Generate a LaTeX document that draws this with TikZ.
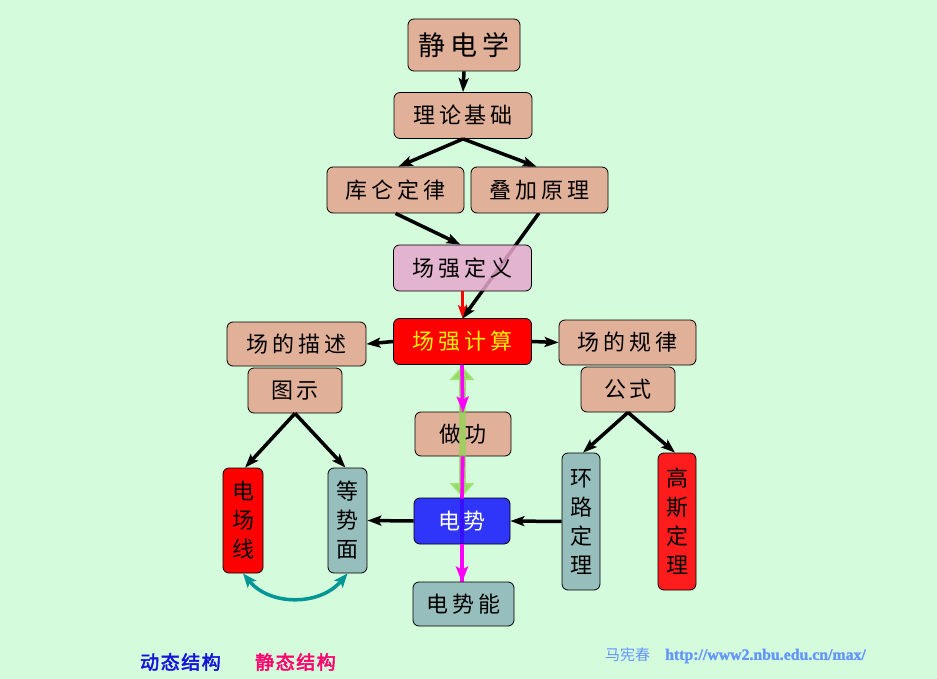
\documentclass[tikz,border=0pt]{standalone}
\usepackage{fontspec}
\newfontfamily\cjk[LetterSpace=18]{Noto Sans CJK SC}
\newfontfamily\cjkv{Noto Sans CJK SC}
\newfontfamily\cjkb[FakeBold=2.5,LetterSpace=8]{Noto Sans CJK SC}
\newfontfamily\urlf[FakeBold=1.5]{Liberation Serif}
\usetikzlibrary{arrows.meta}
\definecolor{bg}{RGB}{212,251,220}
\definecolor{salmon}{RGB}{225,176,152}
\definecolor{pinkbox}{RGB}{230,168,205}
\definecolor{tealgray}{RGB}{150,190,188}
\definecolor{bluebox}{RGB}{20,20,255}
\definecolor{redbox}{RGB}{255,0,0}
\definecolor{gauss}{RGB}{255,28,28}
\definecolor{greenarr}{RGB}{140,215,80}
\definecolor{tealarr}{RGB}{0,150,150}
\definecolor{magarr}{RGB}{255,0,255}
\definecolor{dyn}{RGB}{20,20,220}
\definecolor{sta}{RGB}{255,0,110}
\definecolor{author}{RGB}{100,150,255}
\tikzset{
  box/.style={draw=black, line width=0.8pt, rounded corners=6pt, inner sep=0pt,
    font=\cjk\fontsize{22}{28}\selectfont, align=center, text=black},
  hbox/.style={box, minimum width=138pt, minimum height=46pt},
  sbox/.style={box, minimum width=94pt, minimum height=45pt},
  vbox/.style={box, font=\cjkv\fontsize{22}{29}\selectfont, minimum width=39pt},
  blk/.style={draw=black, line width=3.5pt, -{Stealth[length=14pt,width=10pt,inset=3pt]}},
  mag/.style={draw=magarr, line width=3.5pt},
  magtip/.style={mag, -{Stealth[length=16pt,width=12pt,inset=3pt]}},
}
\begin{document}
\begin{tikzpicture}[x=1pt,y=-1pt]
\fill[bg] (0,0) rectangle (937,679);
\useasboundingbox (0,0) rectangle (937,679);

% magenta line behind the boxes (shows through the blue box)
\coordinate (m1) at (462,364);
\coordinate (m3) at (462,582);
\draw[mag] (m1) -- (m3);
% black line behind 场强定义
\coordinate (dj) at (539,213);
\coordinate (jsn) at (462,319);
\draw[blk] (dj) -- (jsn);

\node[box, fill=salmon, minimum width=112pt, minimum height=52pt, font=\cjk\fontsize{27}{30}\selectfont] (jdx) at (464,45) {静电学};
\node[hbox, fill=salmon] (llj) at (463,115.5) {理论基础};
\node[box, fill=salmon, minimum width=137pt, minimum height=46pt] (kl) at (395.5,190) {库仑定律};
\node[box, fill=salmon, minimum width=137pt, minimum height=46pt] (djy) at (539.5,190) {叠加原理};
\node[hbox, fill=pinkbox, fill opacity=0.85, text opacity=1] (cqdy) at (462.5,268) {场强定义};
\node[hbox, fill=redbox, text=yellow] (cqjs) at (462.5,341.5) {场强计算};
\node[box, fill=salmon, minimum width=139pt, minimum height=44pt] (cdms) at (296.5,344) {场的描述};
\node[sbox, fill=salmon] (ts) at (295,390.5) {图示};
\node[box, fill=salmon, minimum width=137pt, minimum height=45pt] (cdgl) at (627.5,342.5) {场的规律};
\node[sbox, fill=salmon] (gs) at (628,389.5) {公式};
\node[box, fill=salmon, minimum width=96pt, minimum height=44pt] (zg) at (463,434) {做功};
\node[box, fill=bluebox, fill opacity=0.85, text opacity=1, text=white, minimum width=96pt, minimum height=46pt] (ds) at (462,521) {电势};
\node[box, fill=tealgray, minimum width=101pt, minimum height=44pt] (dsn) at (463.5,604) {电势能};
\node[vbox, fill=redbox, minimum width=40pt, minimum height=105pt] (dcx) at (243,520.5) {电\\场\\线};
\node[vbox, fill=tealgray, minimum height=105pt] (dsm) at (347.5,520.5) {等\\势\\面};
\node[vbox, fill=tealgray, minimum width=38pt, minimum height=137pt] (hl) at (581,521.5) {环\\路\\定\\理};
\node[vbox, fill=gauss, minimum width=38pt, minimum height=137pt] (gsd) at (677,521.5) {高\\斯\\定\\理};

% arrows
\draw[blk] (jdx.south) -- (llj.north);
\draw[blk] (llj.south) -- ([xshift=3pt]kl.north);
\draw[blk] (llj.south) -- ([xshift=-3pt]djy.north);
\draw[blk] (kl.south) -- ([xshift=-2pt]cqdy.north);
\draw[draw=red, line width=2.5pt, -{Stealth[length=13pt,width=9pt,inset=3pt]}] (cqdy.south) -- (cqjs.north);
\draw[blk] (cqjs.west) -- (cdms.east);
\draw[blk] (cqjs.east) -- (cdgl.west);
\draw[blk] (ts.south) -- ([xshift=2pt]dcx.north);
\draw[blk] (ts.south) -- ([xshift=-2pt]dsm.north);
\draw[blk] (gs.south) -- ([xshift=2pt]hl.north);
\draw[blk] (gs.south) -- ([xshift=-2pt]gsd.north);
\draw[blk] (hl.west) -- (ds.east);
\draw[blk] (ds.west) -- (dsm.east);
\draw[tealarr, line width=3.5pt, {Stealth[length=14pt,width=11pt,inset=3pt]}-{Stealth[length=14pt,width=11pt,inset=3pt]}]
  (dcx.south) .. controls (270,606) and (320,606) .. (dsm.south);

% green double arrow on top
\coordinate (g1) at (462,366);
\coordinate (g2) at (462,497);
\draw[greenarr, opacity=0.7, line width=7pt, {Triangle[length=14pt,width=24pt]}-{Triangle[length=14pt,width=24pt]}] (g1) -- (g2);

% magenta segments over the green arrow, outside the boxes
\draw[magtip] ([xshift=-0.5pt]cqjs.south) -- ([yshift=-1pt]zg.north);
\draw[mag] (zg.south) -- ([yshift=-1pt]ds.north);
\draw[magtip] (ds.south) -- ([xshift=-1.5pt,yshift=-1pt]dsn.north);

% bottom texts
\node[anchor=west, inner sep=0pt, text=dyn, font=\cjkb\fontsize{19}{20}\selectfont] (dt) at (140,662) {动态结构};
\node[anchor=west, inner sep=0pt, text=sta, font=\cjkb\fontsize{19}{20}\selectfont] (jt) at (255,662) {静态结构};
\node[anchor=west, inner sep=0pt, text=author, font=\cjkv\fontsize{15}{18}\selectfont] (au) at (605,655) {马宪春};
\node[anchor=west, inner sep=0pt, text=author, font=\urlf\bfseries\fontsize{15.8}{18}\selectfont] (url) at (665,656) {http://www2.nbu.edu.cn/max/};
\end{tikzpicture}
\end{document}
